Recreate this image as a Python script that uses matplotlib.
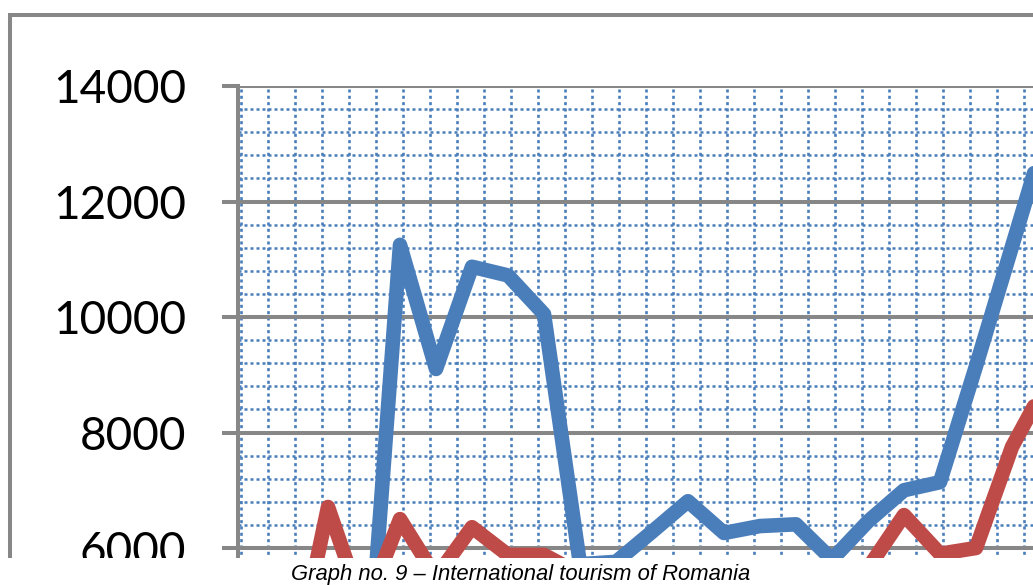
import numpy as np
import matplotlib
matplotlib.use("Agg")
import matplotlib.pyplot as plt
from matplotlib.lines import Line2D
from matplotlib.patches import Rectangle
from matplotlib.ticker import MultipleLocator, FixedLocator

# values (points below ~5500 are hidden by the crop, estimated)
blue = [2400, 2600, 2700, 2800, 11250, 9100, 10870, 10720, 10050, 5720, 5760, 6280,
        6810, 6260, 6380, 6410, 5800, 6460, 7000, 7140, 9150, 11220, 13300]
red = [3400, 3750, 6710, 4900, 6500, 5500, 6360, 5880, 5880, 5550, 4800, 4500,
       4300, 4600, 4700, 4900, 5000, 5650, 6570, 5900, 6000, 7750, 8900]
y_ticks = [6000, 8000, 10000, 12000, 14000]
caption = "Graph no. 9 \u2013 International tourism of Romania"

W, H = 1033, 585
GRAY = "#878787"
BLUE = "#4a7ebb"
RED = "#be4b48"

fig = plt.figure(figsize=(W / 100, H / 100), dpi=100)

# plot area runs past the right and bottom edges of the picture (cropped chart)
px_per_1000 = 57.75
top_px = 86
ymin, ymax = 4000, 14000
ax_h = (ymax - ymin) / 1000 * px_per_1000 / H
ax_top = (H - top_px) / H
ax = fig.add_axes([238 / W, ax_top - ax_h, 24 * 36 / W, ax_h])
ax.set_xlim(-0.5, 23.5)
ax.set_ylim(ymin, ymax)

x = np.arange(len(blue))

# minor dotted grid
ax.yaxis.set_minor_locator(MultipleLocator(400))
ax.xaxis.set_minor_locator(FixedLocator(-0.408 + 0.7494 * np.arange(40)))
ax.set_axisbelow(True)
ax.grid(which="minor", axis="y", color=BLUE, lw=1.8, ls=(0, (1.2, 1.2)))
ax.grid(which="minor", axis="x", color=BLUE, lw=1.9, ls=(0, (1.15, 1.25)))

ax.set_yticks(y_ticks)
ax.set_xticks([])
for v in y_ticks:
    ax.axhline(v, color=GRAY, lw=2.9, zorder=1)

ax.plot(x, blue, color=BLUE, lw=10.5, solid_joinstyle="round", solid_capstyle="round", zorder=3)
ax.plot(x, red, color=RED, lw=10.5, solid_joinstyle="round", solid_capstyle="round", zorder=3)

for s in ["top", "right", "bottom"]:
    ax.spines[s].set_visible(False)
ax.spines["left"].set_color(GRAY)
ax.spines["left"].set_linewidth(2.9)

ax.tick_params(axis="y", which="major", length=11.5, width=2.9, color=GRAY,
               pad=25.9, labelsize=33)
ax.tick_params(axis="both", which="minor", length=0)
ax.tick_params(axis="x", which="both", length=0, labelbottom=False)
for lbl in ax.get_yticklabels():
    lbl.set_fontfamily(["Lato", "DejaVu Sans"])

# outer chart border
fig.add_artist(Line2D([9.5 / W, 9.5 / W, 1.05], [0, 1 - 14.5 / H, 1 - 14.5 / H],
                      transform=fig.transFigure, color=GRAY, lw=2.9,
                      solid_joinstyle="miter"))

# caption strip over the cut-off bottom
fig.add_artist(Rectangle((0, 0), 1, 27 / H, transform=fig.transFigure,
                         fc="white", ec="none", zorder=10))
fig.text(520.5 / W, 5 / H, caption, ha="center", va="baseline",
         fontstyle="italic", family=["Liberation Sans Narrow", "Liberation Sans"],
         fontsize=15.8, zorder=11)

fig.savefig("out.png", dpi=100)
